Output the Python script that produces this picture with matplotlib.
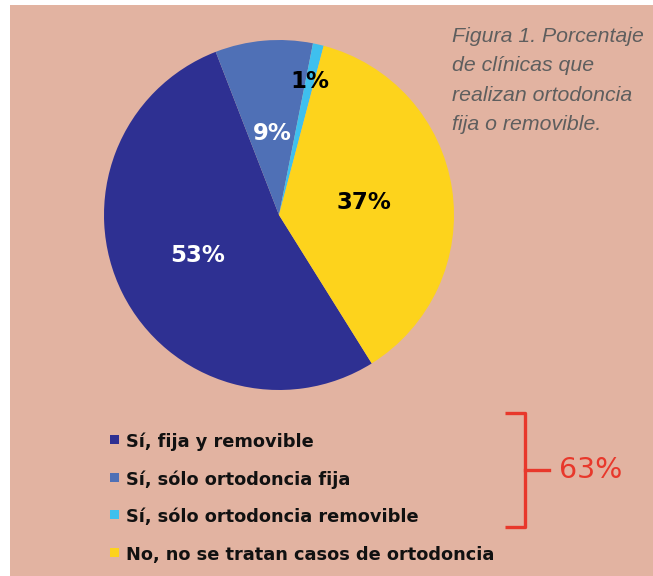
import matplotlib.pyplot as plt
from matplotlib.patches import Rectangle
import numpy as np

# datos del gráfico
categorias = ['Sí, fija y removible', 'Sí, sólo ortodoncia fija',
              'Sí, sólo ortodoncia removible', 'No, no se tratan casos de ortodoncia']
porcentajes = [53, 9, 1, 37]
colores = ['#2E3092', '#4F70B6', '#3EC0EE', '#FDD31C']
color_etiqueta = ['white', 'white', 'black', 'black']
dist_etiqueta = [0.52, 0.47, 0.78, 0.49]
titulo = ['Figura 1. Porcentaje', 'de clínicas que', 'realizan ortodoncia', 'fija o removible.']
total_si = '63%'

W, H = 653, 576
fondo = '#E2B3A1'
rojo = '#E8382B'

fig = plt.figure(figsize=(W / 100, H / 100), dpi=100)
fig.patch.set_facecolor('white')

def fx(x):
    return x / W

def fy(y):
    return 1 - y / H

# panel de fondo (margen blanco a la izquierda y arriba)
bg = fig.add_axes([fx(10), 0, 1 - fx(10), fy(5)], zorder=-1)
bg.set_facecolor(fondo)
bg.axis('off')
bg.add_patch(Rectangle((0, 0), 1, 1, transform=bg.transAxes, facecolor=fondo, edgecolor='none'))

# tarta
cx, cy, r = 279, 215, 175
ax = fig.add_axes([fx(cx - r), fy(cy + r), 2 * r / W, 2 * r / H], zorder=1)
wedges, _ = ax.pie(porcentajes, colors=colores, startangle=-58, counterclock=False,
                   radius=1, center=(0, 0), wedgeprops=dict(linewidth=0))
ax.set_xlim(-1, 1)
ax.set_ylim(-1, 1)
ax.axis('off')
for w, p, c, d in zip(wedges, porcentajes, color_etiqueta, dist_etiqueta):
    ang = np.deg2rad((w.theta1 + w.theta2) / 2)
    ax.text(d * np.cos(ang), d * np.sin(ang), f'{p}%', color=c, fontsize=16.5,
            fontweight='bold', ha='center', va='center', family='DejaVu Sans')

# texto de la figura
for i, linea in enumerate(titulo):
    fig.text(fx(452), fy(42 + i * 29.3), linea, fontsize=15.3, style='italic',
             color='#5E5E5E', family='Liberation Sans', ha='left', va='baseline')

# leyenda
for i, (cat, col) in enumerate(zip(categorias, colores)):
    base = 447 + i * 37.7
    fig.patches.append(Rectangle((fx(110), fy(base - 3)), 9 / W, 9 / H,
                                 transform=fig.transFigure, facecolor=col,
                                 edgecolor='none', zorder=3))
    fig.text(fx(126), fy(base), cat, fontsize=12.8, fontweight='bold', color='#111111',
             family='DejaVu Sans', ha='left', va='baseline')

# llave roja
fig.add_artist(plt.Line2D([fx(505), fx(525), fx(525), fx(505)],
                          [fy(413), fy(413), fy(527), fy(527)], color=rojo, lw=2.4,
                          solid_joinstyle='round', solid_capstyle='butt'))
fig.add_artist(plt.Line2D([fx(525), fx(549)], [fy(470), fy(470)], color=rojo, lw=2.4))
fig.text(fx(559), fy(470), total_si, fontsize=20.5, color=rojo, family='DejaVu Sans',
         ha='left', va='center')

fig.savefig('out.png', dpi=100, facecolor=fig.get_facecolor())
